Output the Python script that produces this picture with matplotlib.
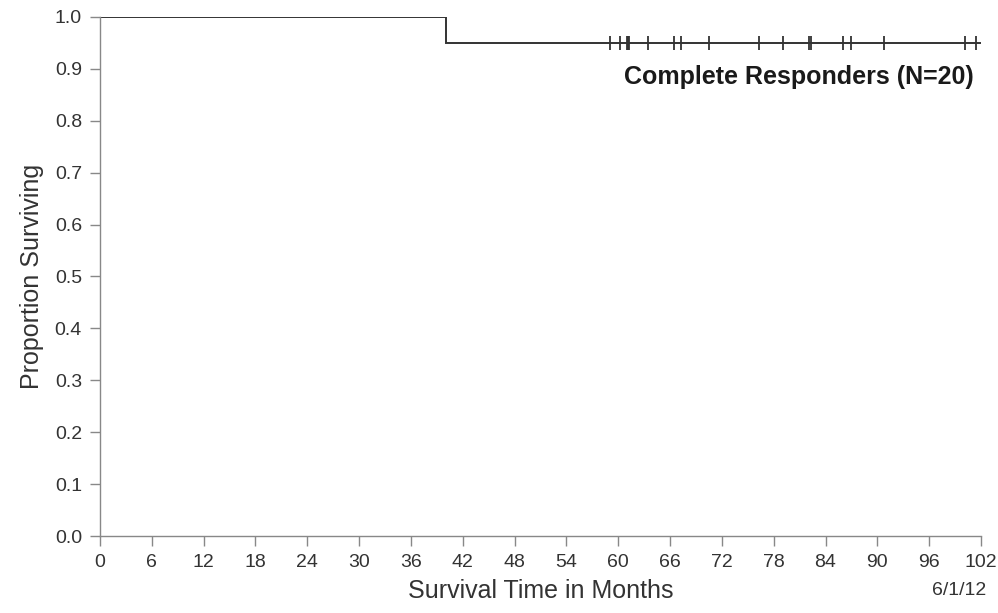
import matplotlib.pyplot as plt

# Kaplan-Meier: one death at 40 months, the rest censored
step_x = [0, 40, 40, 102]
step_y = [1.0, 1.0, 0.95, 0.95]

censor_months = [59.0, 60.2, 61.0, 61.1, 61.2, 63.4, 66.5, 67.3, 70.5, 76.3,
                 79.1, 82.1, 82.3, 86.0, 86.9, 90.8, 100.2, 101.4]
censor_surv = [0.95] * len(censor_months)

x_ticks = list(range(0, 103, 6))
y_ticks = [i / 10 for i in range(11)]

plt.rcParams['font.family'] = ['Liberation Sans', 'DejaVu Sans']

fig = plt.figure(figsize=(9.98, 6.13), dpi=100)
ax = fig.add_axes([0.1002, 0.1256, 0.8828, 0.8467])

ax.plot(step_x, step_y, color='#333333', lw=1.4, solid_joinstyle='miter')
ax.plot(censor_months, censor_surv, ls='none', marker='|', ms=9.5,
        mew=1.3, color='#333333')

ax.set_xlim(0, 102)
ax.set_ylim(0, 1.0)
ax.set_xticks(x_ticks)
ax.set_yticks(y_ticks)
ax.set_yticklabels([f"{v:.1f}" for v in y_ticks])

for side in ['top', 'right']:
    ax.spines[side].set_visible(False)
for side in ['left', 'bottom']:
    ax.spines[side].set_color('#888888')
    ax.spines[side].set_linewidth(1.0)

ax.tick_params(axis='both', length=7, width=1.0, color='#888888',
               labelsize=14, labelcolor='#333333')
ax.tick_params(axis='x', pad=6)
ax.tick_params(axis='y', pad=6)

ax.set_xlabel("Survival Time in Months", fontsize=18, color='#333333', labelpad=6)
ax.set_ylabel("Proportion Surviving", fontsize=18, color='#333333', labelpad=8)

ax.text(0.992, 0.885, "Complete Responders (N=20)", transform=ax.transAxes,
        ha='right', va='center', fontsize=18, fontweight='bold', color='#1a1a1a')
fig.text(0.988, 0.036, "6/1/12", ha='right', va='center', fontsize=14, color='#333333')

fig.savefig("out.png", dpi=100)
